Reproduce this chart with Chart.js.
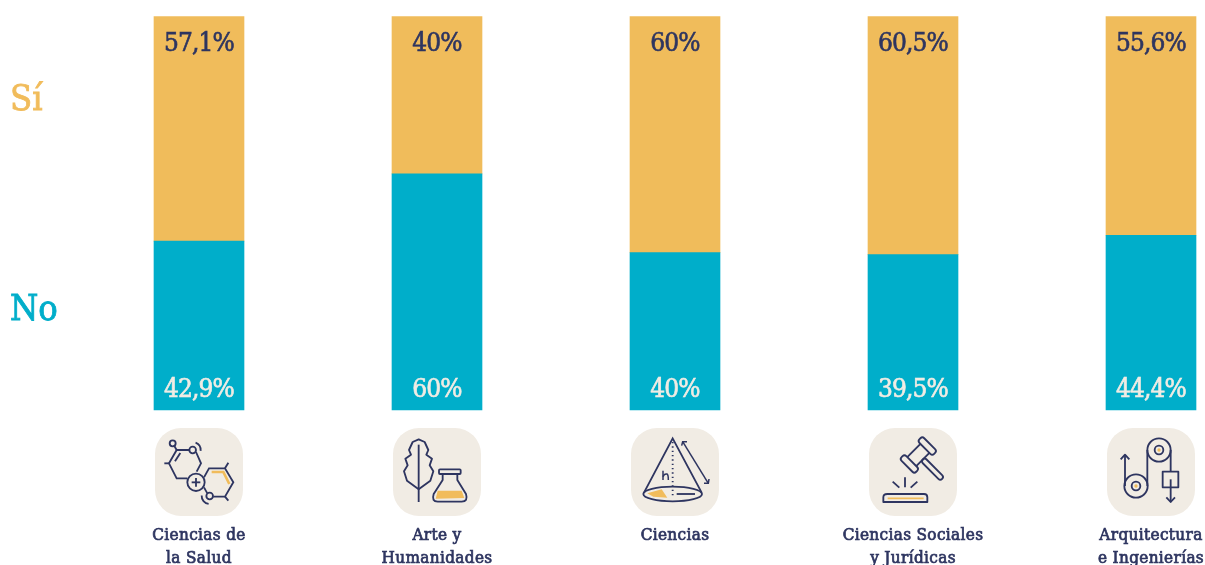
<!DOCTYPE html>
<html lang="es">
<head>
<meta charset="utf-8">
<title>Ramas de conocimiento</title>
<script src="https://cdn.jsdelivr.net/npm/chart.js@4"></script>
<style>
html,body{margin:0;padding:0;background:#fff;overflow:hidden}
canvas{display:block}
</style>
</head>
<body>
<canvas id="c" width="1205" height="565"></canvas>
<script>
const categories = [
  ["Ciencias de", "la Salud"],
  ["Arte y", "Humanidades"],
  ["Ciencias"],
  ["Ciencias Sociales", "y Jurídicas"],
  ["Arquitectura", "e Ingenierías"]
];
const noValues = [42.9, 60, 40, 39.5, 44.4];
const siValues = [57.1, 40, 60, 60.5, 55.6];
const noText = ["42,9%", "60%", "40%", "39,5%", "44,4%"];
const siText = ["57,1%", "40%", "60%", "60,5%", "55,6%"];

const NAVY = "#2e3560", YEL = "#f1bc5b", CYAN = "#00aeca", TILE = "#f1ece4";
const SLAB = '"DejaVu Serif Condensed","DejaVu Serif",serif';

function line(c, pts, close) {
  c.beginPath();
  pts.forEach((p, i) => i ? c.lineTo(p[0], p[1]) : c.moveTo(p[0], p[1]));
  if (close) c.closePath();
  c.stroke();
}
function circle(c, x, y, r) { c.beginPath(); c.arc(x, y, r, 0, Math.PI * 2); c.stroke(); }
function fillPoly(c, pts) {
  c.beginPath();
  pts.forEach((p, i) => i ? c.lineTo(p[0], p[1]) : c.moveTo(p[0], p[1]));
  c.closePath(); c.fill();
}
function rr(c, x, y, w, h, r) { c.beginPath(); c.roundRect(x, y, w, h, r); c.stroke(); }

const icons = [
  function (c) { // molecule
    c.strokeStyle = YEL; c.lineWidth = 8;
    line(c, [[170, 132], [205, 132], [223, 168]]);
    c.strokeStyle = NAVY; c.lineWidth = 5.5;
    line(c, [[103, 66], [65, 66], [42, 106], [65, 151], [97, 151]]);
    line(c, [[60, 100], [76, 75]]);
    line(c, [[28, 106], [42, 106]]);
    line(c, [[58, 54], [65, 66]]);
    circle(c, 53, 46, 9);
    circle(c, 113, 66, 10);
    line(c, [[123, 72], [138, 106], [125, 131]]);
    c.beginPath(); c.arc(113, 66, 24, -1.2, 0.1); c.stroke();
    circle(c, 123, 163, 26);
    line(c, [[123, 150], [123, 176]]);
    line(c, [[110, 163], [136, 163]]);
    line(c, [[147, 148], [162, 121], [210, 121], [235, 163], [210, 206], [175, 206]]);
    line(c, [[210, 121], [220, 104]]);
    line(c, [[210, 206], [220, 218]]);
    line(c, [[147, 178], [157, 196]]);
    circle(c, 164, 204, 10);
    c.beginPath(); c.arc(164, 204, 24, 1.7, 3.2); c.stroke();
  },
  function (c) { // leaf and flask
    c.lineWidth = 5.5; c.strokeStyle = NAVY;
    const r = [[77, 34], [95, 42], [106, 66], [100, 80], [117, 92], [110, 112], [121, 130], [112, 158], [77, 184]];
    c.beginPath(); c.moveTo(77, 34);
    r.slice(1).forEach(p => c.lineTo(p[0], p[1]));
    r.slice(0, -1).reverse().forEach(p => c.lineTo(154 - p[0], p[1]));
    c.closePath(); c.lineJoin = "round"; c.stroke();
    line(c, [[77, 50], [77, 222]]);
    c.fillStyle = YEL;
    fillPoly(c, [[134, 188], [206, 188], [214, 210], [128, 212]]);
    rr(c, 138, 124, 65, 14, 3);
    c.beginPath();
    c.moveTo(149, 138); c.lineTo(149, 156); c.lineTo(122, 198);
    c.quadraticCurveTo(115, 221, 134, 221); c.lineTo(206, 221);
    c.quadraticCurveTo(226, 221, 219, 198); c.lineTo(193, 156); c.lineTo(193, 138);
    c.stroke();
  },
  function (c) { // cone
    c.fillStyle = YEL;
    fillPoly(c, [[49, 196], [92, 184], [109, 209], [67, 206]]);
    c.lineWidth = 5.5; c.strokeStyle = NAVY;
    c.beginPath(); c.ellipse(125, 198, 88, 22, 0, 0, Math.PI * 2); c.stroke();
    line(c, [[39, 194], [125, 31], [212, 194]]);
    line(c, [[137, 198], [192, 198]]);
    c.setLineDash([4, 9]); line(c, [[125, 42], [125, 205]]); c.setLineDash([]);
    c.lineWidth = 4.5;
    line(c, [[96, 128], [96, 156]]);
    c.beginPath(); c.moveTo(96, 146); c.quadraticCurveTo(100, 136, 108, 138);
    c.quadraticCurveTo(112, 140, 112, 156); c.stroke();
    line(c, [[155, 41], [232, 166]]);
    line(c, [[152, 53], [155, 41], [168, 41]]);
    line(c, [[219, 166], [232, 166], [234, 153]]);
  },
  function (c) { // gavel
    c.lineWidth = 5.5; c.strokeStyle = NAVY; c.lineJoin = "round";
    c.save(); c.translate(148, 81); c.rotate(-Math.PI / 4);
    rr(c, -48, -31, 20, 62, 8);
    rr(c, 28, -31, 20, 62, 8);
    line(c, [[-28, -19], [28, -19]]);
    line(c, [[-28, 19], [28, 19]]);
    rr(c, -8, 19, 16, 82, 8);
    c.restore();
    line(c, [[71, 161], [91, 179]]);
    line(c, [[108, 148], [108, 178]]);
    line(c, [[145, 161], [125, 179]]);
    c.strokeStyle = YEL; line(c, [[56, 211], [164, 211]]);
    c.strokeStyle = NAVY;
    c.beginPath();
    c.moveTo(43, 222); c.lineTo(43, 208); c.quadraticCurveTo(43, 198, 55, 198);
    c.lineTo(165, 198); c.quadraticCurveTo(175, 198, 175, 208); c.lineTo(175, 222);
    c.closePath(); c.stroke();
  },
  function (c) { // pulleys
    c.lineWidth = 5.5; c.strokeStyle = NAVY; c.fillStyle = YEL; c.lineJoin = "round";
    circle(c, 156, 66, 35); circle(c, 156, 66, 13);
    circle(c, 87, 174, 35); circle(c, 87, 174, 13);
    c.beginPath(); c.arc(156, 66, 5, 0, 7); c.fill();
    c.beginPath(); c.arc(87, 174, 5, 0, 7); c.fill();
    line(c, [[54, 84], [54, 174]]);
    line(c, [[41, 94], [54, 80], [67, 94]]);
    line(c, [[121, 66], [121, 174]]);
    line(c, [[191, 66], [191, 131]]);
    c.strokeRect(167, 131, 47, 47);
    line(c, [[191, 154], [191, 221]]);
    line(c, [[178, 208], [191, 222], [204, 208]]);
  }
];

function label(c, text, x, y, color, sw) {
  c.fillStyle = color; c.strokeStyle = color; c.lineWidth = sw;
  c.fillText(text, x, y); c.strokeText(text, x, y);
}

const overlay = {
  id: "overlay",
  beforeDraw(chart) { chart.ctx.letterSpacing = "0.35px"; },
  afterDraw(chart) {
    const c = chart.ctx, x = chart.scales.x;
    c.save();
    c.letterSpacing = "-0.9px";
    c.textAlign = "center"; c.textBaseline = "alphabetic";
    c.font = "26px " + SLAB;
    categories.forEach((_, i) => {
      const px = x.getPixelForValue(i);
      label(c, siText[i], px, 50.5, NAVY, 0.6);
      label(c, noText[i], px, 396.5, "#f1ece4", 0.6);
      c.save();
      c.translate(px - 44, 428);
      c.fillStyle = TILE;
      c.beginPath(); c.roundRect(0, 0, 88, 88, 26); c.fill();
      c.scale(1 / 3, 1 / 3);
      c.lineCap = "butt";
      icons[i](c);
      c.restore();
    });
    c.textAlign = "left";
    c.letterSpacing = "0px";
    c.font = "36px " + SLAB;
    label(c, chart.data.datasets[1].label, 10, 110, YEL, 0.8);
    label(c, chart.data.datasets[0].label, 10, 320, CYAN, 0.8);
    c.restore();
  }
};

new Chart(document.getElementById("c"), {
  type: "bar",
  data: {
    labels: categories,
    datasets: [
      { label: "No", data: noValues, backgroundColor: CYAN, barThickness: 90, stack: "s", clip: false },
      { label: "Sí", data: siValues, backgroundColor: "#f0bc5b", barThickness: 90, stack: "s", clip: false }
    ]
  },
  plugins: [overlay],
  options: {
    responsive: false,
    animation: false,
    events: [],
    layout: { padding: { left: 199, right: 54, top: 16.5, bottom: 0 } },
    plugins: { legend: { display: false }, title: { display: false }, tooltip: { enabled: false } },
    scales: {
      x: {
        offset: false,
        stacked: true,
        grid: { display: false },
        border: { display: false },
        afterFit(s) { s.height = 155; s.paddingLeft = 0; s.paddingRight = 0; },
        ticks: {
          autoSkip: false, maxRotation: 0, minRotation: 0,
          padding: 107, color: NAVY,
          textStrokeColor: NAVY, textStrokeWidth: 0.7,
          font: { family: SLAB, size: 17, lineHeight: 1.3 }
        }
      },
      y: { display: false, stacked: true, min: 0, max: 100 }
    }
  }
});
</script>
</body>
</html>
